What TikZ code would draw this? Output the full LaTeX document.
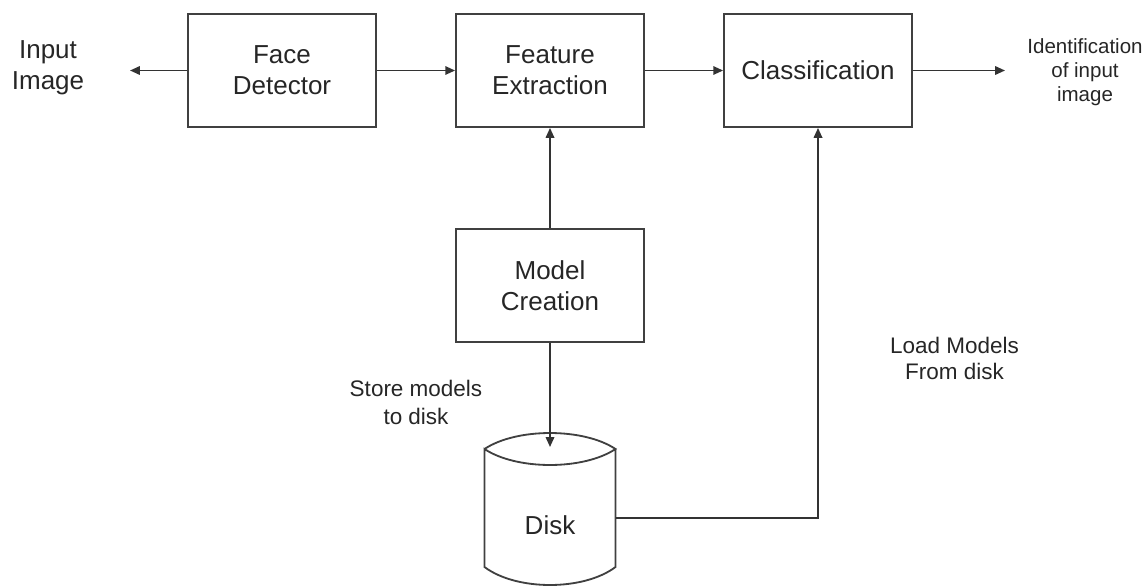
\documentclass[tikz,border=0pt]{standalone}
\usepackage{fontspec}
\setmainfont{Liberation Sans}
\usetikzlibrary{positioning, arrows.meta}

\begin{document}
\begin{tikzpicture}[
  block/.style={draw=black!75, line width=1.3pt, minimum width=4.7cm, minimum height=2.825cm, align=center, text=black!85, font=\fontsize{18.5}{22}\selectfont},
  flow/.style={line width=1.3pt, draw=black!80, -{Triangle[length=7pt,width=6pt]}},
  note/.style={align=center, text=black!85}
]

\useasboundingbox (0,0) rectangle (28.675,14.65);

\node[block] (facedet) at (7.05,12.8875) {Face\\Detector};
\node[block] (featext) at (13.75,12.8875) {Feature\\Extraction};
\node[block] (classif) at (20.45,12.8875) {Classification};
\node[block] (modelcr) at (13.75,7.5125) {Model\\Creation};

\draw [line width=1.3pt, draw=black!75] (12.1125,3.425) .. controls (12.9125,3.958) and (14.5875,3.958) .. (15.3875,3.425) .. controls (14.5875,2.892) and (12.9125,2.892) .. (12.1125,3.425) -- (12.1125,0.475) .. controls (12.9125,-0.125) and (14.5875,-0.125) .. (15.3875,0.475) -- (15.3875,3.425);
\node[note, font=\fontsize{18.5}{22}\selectfont] (disk) at (13.75,1.525) {Disk};

\node[note, font=\fontsize{18.5}{22}\selectfont] (inimg) at (1.2,12.95) {Input\\Image};
\node[note, font=\fontsize{14.6}{17}\selectfont] (ident) at (27.125,12.85) {Identification\\of input\\image};
\node[note, font=\fontsize{16}{19.9}\selectfont] (storetxt) at (10.4,4.6) {Store models\\to disk};
\node[note, font=\fontsize{16}{18.5}\selectfont] (loadtxt) at (23.8625,5.7) {Load Models\\From disk};

\coordinate (inend) at (3.25,12.8875);
\coordinate (outend) at (25.125,12.8875);
\coordinate (disktop) at (13.75,3.475);
\coordinate (diskright) at (15.3875,1.7);

\draw [flow] (facedet) -- (inend);
\draw [flow] (facedet) -- (featext);
\draw [flow] (featext) -- (classif);
\draw [flow] (classif) -- (outend);
\draw [flow] (modelcr) -- (featext);
\draw [flow] (modelcr) -- (disktop);
\draw [flow] (diskright) -| (classif);

\end{tikzpicture}
\end{document}
